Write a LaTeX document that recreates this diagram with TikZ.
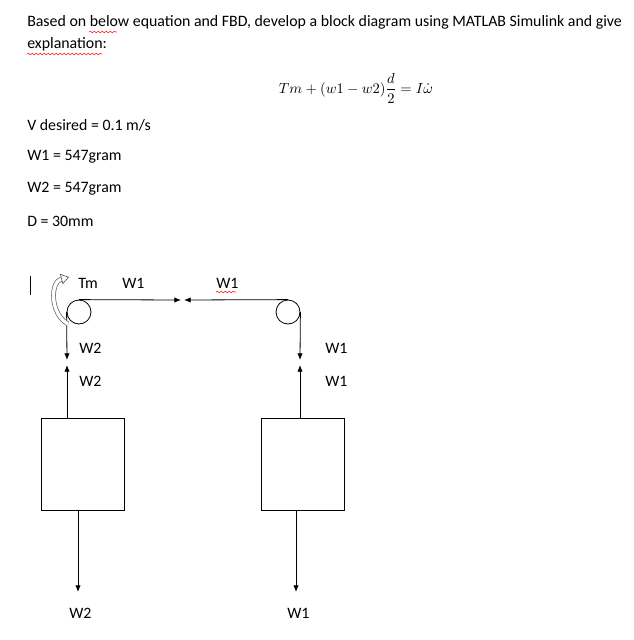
\documentclass[tikz,border=0pt]{standalone}
\usepackage{fontspec}
\setmainfont{Carlito}
\usetikzlibrary{arrows.meta,decorations.pathmorphing}
\begin{document}
\begin{tikzpicture}[x=0.75pt,y=-0.75pt,
    txt/.style={anchor=west,inner sep=0pt,font=\fontsize{11.9}{13}\selectfont},
    force/.style={-{Latex[length=5pt,width=4pt]},line width=0.6pt},
    squiggle/.style={red!80,line width=0.5pt,decorate,decoration={snake,amplitude=0.6pt,segment length=3pt}}]
    \useasboundingbox (0,0) rectangle (633,640);

    % task text
    \node[txt] (line1) at (27,22) {Based on below equation and FBD, develop a block diagram using MATLAB Simulink and give};
    \node[txt] (line2) at (27,44) {explanation:};
    \draw[squiggle] (89,32) -- (117,32);
    \draw[squiggle] (27,54) -- (102,54);
    \node[inner sep=0pt,font=\fontsize{11.2}{13}\selectfont] (eqn) at (356,88)
        {$\displaystyle Tm+(w1-w2)\frac{d}{2}=I\dot{\omega}$};
    \node[txt] (vdes) at (27,125) {V desired = 0.1 m/s};
    \node[txt] (wone) at (27,157) {W1 = 547gram};
    \node[txt] (wtwo) at (27,189) {W2 = 547gram};
    \node[txt] (dia) at (27,221) {D = 30mm};
    \draw[line width=0.7pt] (30,276) -- (30,295);

    % pulleys
    \node[draw,circle,minimum size=18,inner sep=0pt,line width=0.6pt] (pulleyL) at (79,312) {};
    \node[draw,circle,minimum size=18,inner sep=0pt,line width=0.6pt] (pulleyR) at (288,312) {};
    \coordinate (midL) at (181,300);
    \coordinate (midR) at (184,300);
    \draw[force] (pulleyL.north) -- (midL);
    \draw[force] (pulleyR.north) -- (midR);

    % boxes
    \node[draw,minimum width=62pt,minimum height=69pt,inner sep=0pt,line width=0.6pt] (massL) at (83,464) {};
    \node[draw,minimum width=62pt,minimum height=69pt,inner sep=0pt,line width=0.6pt] (massR) at (303,464) {};

    % rope forces
    \coordinate (ropeLa) at (67,360);
    \coordinate (ropeLb) at (67,365);
    \coordinate (ropeRa) at (300,360);
    \coordinate (ropeRb) at (300,365);
    \draw[force] (pulleyL.west) -- (ropeLa);
    \draw[force] (67,418) -- (ropeLb);
    \draw[force] (pulleyR.east) -- (ropeRa);
    \draw[force] (300,418) -- (ropeRb);

    % weights
    \coordinate (downL) at (78,592);
    \coordinate (downR) at (296,592);
    \draw[force] (78,510) -- (downL);
    \draw[force] (296,510) -- (downR);

    % torque
    \draw[-{Triangle[length=6pt,width=8pt,fill=white]},double=white,double distance=2.5pt,line width=0.5pt,gray!70!black]
        (68,324) .. controls (50,314) and (50,282) .. (69,277);

    % labels
    \node[txt] (lblTm) at (78,283) {Tm};
    \node[txt] (lblW1a) at (122,283) {W1};
    \node[txt] (lblW1b) at (216,283) {W1};
    \draw[squiggle] (216,292) -- (236,292);
    \node[txt] (lblW2a) at (79,348) {W2};
    \node[txt] (lblW2b) at (79,381) {W2};
    \node[txt] (lblW1c) at (325,348) {W1};
    \node[txt] (lblW1d) at (325,381) {W1};
    \node[txt] (lblW2c) at (69,613) {W2};
    \node[txt] (lblW1e) at (287,613) {W1};
\end{tikzpicture}
\end{document}
